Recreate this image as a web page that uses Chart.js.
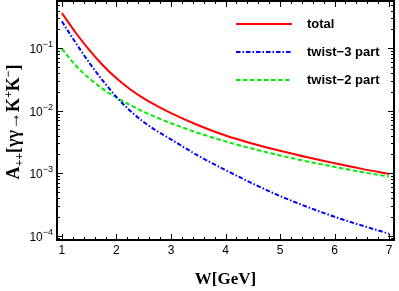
<!DOCTYPE html>
<html lang="en">
<head>
  <meta charset="UTF-8">
  <title>A++ [gamma gamma -> K+K-]</title>
  <script src="https://cdn.jsdelivr.net/npm/chart.js"></script>
  <style>
    html, body { margin: 0; padding: 0; background: #fff; }
    #wrap { width: 399px; height: 291px; }
  </style>
</head>
<body>
  <div id="wrap"><canvas id="myChart" width="399" height="291"></canvas></div>

  <script>
    // W in GeV
    const wValues = [1, 1.25, 1.5, 1.75, 2, 2.25, 2.5, 2.75, 3, 3.5, 4, 4.5, 5, 5.5, 6, 6.5, 7];
    const totalValues = [0.365, 0.1786, 0.0938, 0.0533, 0.0329, 0.022, 0.0157, 0.0118, 0.00916, 0.00585, 0.0040, 0.00296, 0.00228, 0.00179, 0.00144, 0.00117, 0.00097];
    const twist3Values = [0.269, 0.123, 0.0589, 0.0302, 0.0166, 0.010, 0.0066, 0.00468, 0.00347, 0.0019, 0.00112, 0.00068, 0.00043, 0.000288, 0.0002, 0.000145, 0.000107];
    const twist2Values = [0.0977, 0.0533, 0.033, 0.0223, 0.0162, 0.0123, 0.0096, 0.0077, 0.0063, 0.0044, 0.00322, 0.00245, 0.00192, 0.00154, 0.00126, 0.00104, 0.00088];
    const seriesNames = ['total', 'twist\u22123 part', 'twist\u22122 part'];
    const xTicks = [1, 2, 3, 4, 5, 6, 7];
    const yTicks = [1e-4, 1e-3, 1e-2, 1e-1];

    const toPoints = vals => vals.map((v, i) => ({ x: wValues[i], y: v }));

    // frame, inward ticks, tick labels, axis titles and legend
    const decor = {
      id: 'decor',
      afterDraw(chart) {
        const { ctx, chartArea: a, scales: { x, y } } = chart;
        ctx.save();
        ctx.strokeStyle = '#000';
        ctx.fillStyle = '#000';
        ctx.lineWidth = 1;

        // x ticks (bottom + top)
        for (let k = 0; k <= 30; k++) {
          const v = 1 + k * 0.2;
          const px = Math.round(x.getPixelForValue(v)) + 0.5;
          const len = k % 5 === 0 ? 6 : 3;
          ctx.beginPath();
          ctx.moveTo(px, a.bottom); ctx.lineTo(px, a.bottom - len);
          ctx.moveTo(px, a.top); ctx.lineTo(px, a.top + len);
          ctx.stroke();
        }
        // y ticks (left + right)
        for (let e = -5; e <= 0; e++) {
          for (let m = 1; m <= 9; m++) {
            const v = m * Math.pow(10, e);
            if (v < y.min || v > y.max) continue;
            const py = Math.round(y.getPixelForValue(v)) + 0.5;
            const len = m === 1 ? 6 : 3;
            ctx.beginPath();
            ctx.moveTo(a.left, py); ctx.lineTo(a.left + len, py);
            ctx.moveTo(a.right, py); ctx.lineTo(a.right - len, py);
            ctx.stroke();
          }
        }
        // frame
        ctx.lineWidth = 2;
        ctx.strokeRect(a.left, a.top, a.right - a.left, a.bottom - a.top);

        // x tick labels
        ctx.font = '12px "Liberation Sans", Arial, sans-serif';
        ctx.textAlign = 'center';
        ctx.textBaseline = 'middle';
        x.ticks.forEach(t => {
          ctx.fillText(String(t.value), x.getPixelForValue(t.value), 251);
        });

        // y tick labels 10^n
        y.ticks.forEach(t => {
          const py = y.getPixelForValue(t.value);
          const exp = '\u2212' + Math.round(-Math.log10(t.value));
          ctx.font = '9px "Liberation Sans", Arial, sans-serif';
          const ew = ctx.measureText(exp).width;
          ctx.textAlign = 'right';
          ctx.textBaseline = 'alphabetic';
          ctx.fillText(exp, a.left - 4, py - 1);
          ctx.font = '12px "Liberation Sans", Arial, sans-serif';
          ctx.fillText('10', a.left - 4 - ew, py + 5);
        });

        // x title
        ctx.font = 'bold 17px "Liberation Serif", "Times New Roman", serif';
        ctx.textAlign = 'center';
        ctx.textBaseline = 'alphabetic';
        ctx.fillText('W[GeV]', (a.left + a.right) / 2, 284);

        // y title, rotated, built from pieces
        const parts = [
          { t: 'A', size: 18, dy: 0 },
          { t: '++', size: 12, dy: 4 },
          { t: '[\u03b3\u03b3\u2192K', size: 18, dy: 0 },
          { t: '+', size: 12, dy: -7 },
          { t: 'K', size: 18, dy: 0 },
          { t: '\u2212', size: 12, dy: -7 },
          { t: ']', size: 18, dy: 0 }
        ];
        let total = 0;
        parts.forEach(p => {
          ctx.font = 'bold ' + p.size + 'px "Liberation Serif", "Times New Roman", serif';
          p.w = ctx.measureText(p.t).width;
          total += p.w;
        });
        ctx.translate(19, 122);
        ctx.rotate(-Math.PI / 2);
        ctx.textAlign = 'left';
        let cx = -total / 2;
        parts.forEach(p => {
          ctx.font = 'bold ' + p.size + 'px "Liberation Serif", "Times New Roman", serif';
          ctx.fillText(p.t, cx, p.dy);
          cx += p.w;
        });
        ctx.setTransform(1, 0, 0, 1, 0, 0);

        // legend
        const rows = [24, 52, 80];
        chart.data.datasets.forEach((ds, i) => {
          ctx.strokeStyle = ds.borderColor;
          ctx.lineWidth = 2;
          ctx.setLineDash(ds.borderDash || []);
          ctx.beginPath();
          ctx.moveTo(236, rows[i]); ctx.lineTo(292, rows[i]);
          ctx.stroke();
          ctx.setLineDash([]);
          ctx.fillStyle = '#000';
          ctx.font = 'bold 13px "Liberation Sans", Arial, sans-serif';
          ctx.textAlign = 'left';
          ctx.textBaseline = 'middle';
          ctx.fillText(ds.label, 307, rows[i]);
        });
        ctx.restore();
      }
    };

    const ctx = document.getElementById('myChart').getContext('2d');
    new Chart(ctx, {
      type: 'line',
      data: {
        datasets: [
          { label: seriesNames[0], data: toPoints(totalValues), borderColor: '#ff0000', borderWidth: 2 },
          { label: seriesNames[1], data: toPoints(twist3Values), borderColor: '#0000ff', borderWidth: 2, borderDash: [4.5, 2, 1.5, 2] },
          { label: seriesNames[2], data: toPoints(twist2Values), borderColor: '#00ee00', borderWidth: 2, borderDash: [4.5, 2.5] }
        ]
      },
      options: {
        responsive: false,
        animation: false,
        layout: { padding: { left: 0, right: 5, top: 1, bottom: 0 } },
        elements: {
          point: { radius: 0 },
          line: { cubicInterpolationMode: 'monotone', fill: false }
        },
        plugins: { legend: { display: false }, tooltip: { enabled: false } },
        scales: {
          x: {
            type: 'linear',
            min: 0.91,
            max: 7.09,
            grid: { display: false },
            border: { display: false },
            ticks: { display: false },
            afterBuildTicks: s => { s.ticks = xTicks.map(v => ({ value: v })); },
            afterFit: s => { s.height = 51; }
          },
          y: {
            type: 'logarithmic',
            min: 8.5e-5,
            max: 0.57,
            grid: { display: false },
            border: { display: false },
            ticks: { display: false },
            afterBuildTicks: s => { s.ticks = yTicks.map(v => ({ value: v })); },
            afterFit: s => { s.width = 57; }
          }
        }
      },
      plugins: [decor]
    });
  </script>
</body>
</html>
